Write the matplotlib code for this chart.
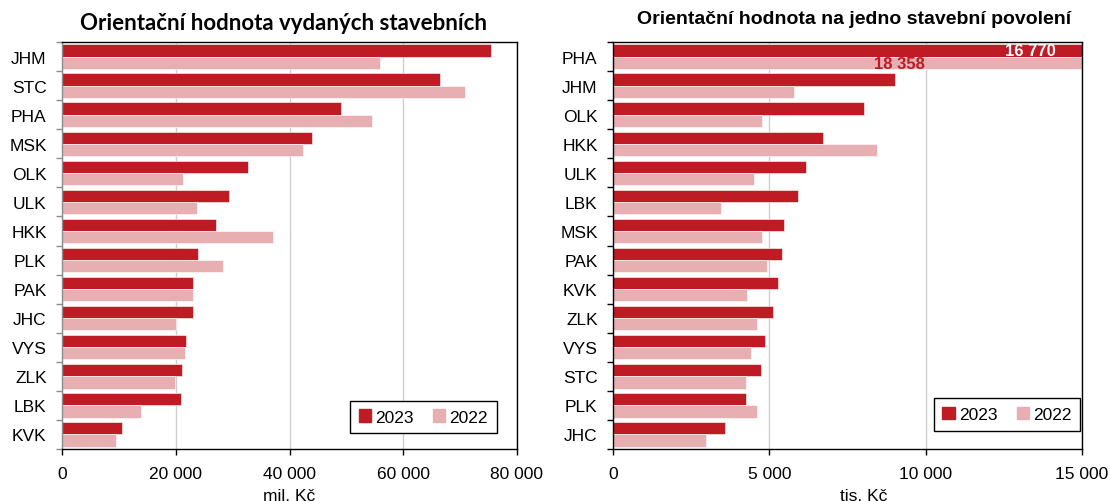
import matplotlib
matplotlib.use("Agg")
import matplotlib.pyplot as plt
import numpy as np
from matplotlib.patches import Patch

plt.rcParams['font.family'] = ['Liberation Sans', 'DejaVu Sans']

# Left panel: total value (mil. Kč)
left_regions = ["JHM", "STC", "PHA", "MSK", "OLK", "ULK", "HKK", "PLK", "PAK", "JHC", "VYS", "ZLK", "LBK", "KVK"]
left_2023 = [75500, 66500, 49000, 43900, 32650, 29350, 27100, 23850, 23100, 22950, 21850, 21150, 20850, 10500]
left_2022 = [55900, 70900, 54550, 42300, 21300, 23800, 37050, 28350, 23050, 20100, 21650, 19800, 13850, 9500]

# Right panel: value per permit (tis. Kč)
right_regions = ["PHA", "JHM", "OLK", "HKK", "ULK", "LBK", "MSK", "PAK", "KVK", "ZLK", "VYS", "STC", "PLK", "JHC"]
right_2023 = [16770, 9010, 8030, 6710, 6170, 5910, 5480, 5390, 5290, 5110, 4850, 4730, 4260, 3590]
right_2022 = [18358, 5790, 4780, 8450, 4500, 3460, 4780, 4940, 4270, 4620, 4420, 4250, 4620, 2960]

years = ["2023", "2022"]
C23 = "#BE1B25"
C22 = "#E8AFB3"

fig = plt.figure(figsize=(11.1, 5.02), dpi=100)
axL = fig.add_axes([62/1110, 1-450/502, 455/1110, 407/502])
axR = fig.add_axes([613/1110, 1-450/502, 469/1110, 407/502])

def draw(ax, regions, v23, v22, xmax, step, xlabel, left_color):
    n = len(regions)
    y = np.arange(n)
    h = 0.42
    ax.barh(y - h/2, v23, height=h, color=C23, edgecolor="white", linewidth=0.4, zorder=3)
    ax.barh(y + h/2, v22, height=h, color=C22, edgecolor="white", linewidth=0.4, zorder=3)
    ax.set_ylim(n - 0.5, -0.5)
    ax.set_xlim(0, xmax)
    ax.set_yticks(np.arange(-0.5, n, 1.0))
    ax.set_yticklabels([])
    ax.set_yticks(y, minor=True)
    ax.set_yticklabels(regions, minor=True, fontsize=12.5)
    ax.tick_params(axis='y', which='minor', length=0, pad=11)
    ax.tick_params(axis='y', which='major', length=4, width=1, direction='out', color=left_color)
    ticks = np.arange(0, xmax + 1, step)
    ax.set_xticks(ticks)
    ax.set_xticklabels([f"{int(t):,}".replace(",", " ") for t in ticks], fontsize=12.5)
    ax.tick_params(axis='x', length=4, width=1, direction='out', pad=8)
    ax.grid(axis='x', color="#CFCFCF", linewidth=1, zorder=0)
    for s in ax.spines.values():
        s.set_color("black")
        s.set_linewidth(1)
        s.set_zorder(5)
    ax.spines['left'].set_color(left_color)
    ax.set_xlabel(xlabel, fontsize=12.5, labelpad=3)
    handles = [Patch(facecolor=C23, edgecolor=C23), Patch(facecolor=C22, edgecolor=C22)]
    return handles

hL = draw(axL, left_regions, left_2023, left_2022, 80000, 20000, "mil. Kč", "#8C8C8C")
hR = draw(axR, right_regions, right_2023, right_2022, 15000, 5000, "tis. Kč", "black")
axR.xaxis.set_label_coords((864 - 613) / 469, -0.095)
axL.xaxis.set_label_coords(0.5, -0.095)

for ax, h, bb in [(axL, hL, (0.637, 0.034, 0.315, 0.089)), (axR, hR, (0.693, 0.042, 0.294, 0.086))]:
    leg = ax.legend(h, years, ncol=2, loc='center', bbox_to_anchor=bb, fontsize=12.5,
                    frameon=True, fancybox=False, edgecolor='black', framealpha=1,
                    handlelength=0.7, handleheight=0.7, handletextpad=0.25,
                    columnspacing=1.1, borderpad=0.5)
    leg.get_frame().set_linewidth(1)
    leg.set_zorder(6)

# PHA values exceeding the axis in right panel
axR.text(13350, -0.5 + 0.29, f"{right_2023[0]:,}".replace(",", " "), color="white",
         fontsize=12, fontweight='bold', ha='center', va='center', zorder=6)
axR.text(9165, -0.5 + 0.74, f"{right_2022[0]:,}".replace(",", " "), color=C23,
         fontsize=12, fontweight='bold', ha='center', va='center', zorder=6)

fig.text(284/1110, 1-23/502, "Orientační hodnota vydaných stavebních", fontsize=16,
         fontweight='bold', family=['Lato', 'DejaVu Sans'], ha='center', va='center')
fig.text(854/1110, 1-20/502, "Orientační hodnota na jedno stavební povolení", fontsize=14,
         fontweight='bold', ha='center', va='center')

fig.savefig("out.png", dpi=100)
